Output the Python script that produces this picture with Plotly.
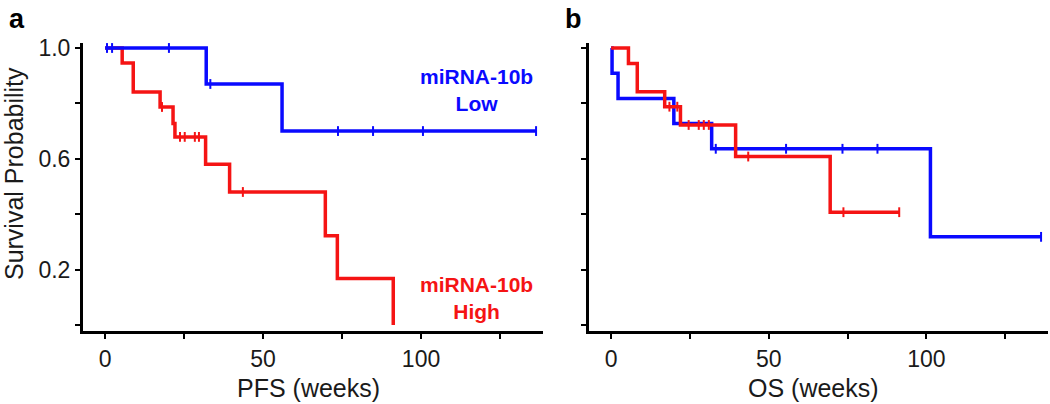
import numpy as np
import plotly.graph_objects as go

# ---- Panel a: progression-free survival ----
pfs_low_t = [0, 32.0, 56.0, 136.4]
pfs_low_s = [1.0, 0.87, 0.70, 0.70]
pfs_low_cens = [0.6, 2.2, 20.2, 33.3, 73.7, 84.8, 100.6, 136.4]

pfs_high_t = [0, 5.4, 8.9, 17.4, 21.5, 22.1, 31.8, 39.4, 69.7, 73.5, 91.2]
pfs_high_s = [1.0, 0.946, 0.841, 0.787, 0.727, 0.679, 0.580, 0.480, 0.322, 0.168, 0.0]
pfs_high_cens = [18.0, 23.7, 25.2, 28.4, 29.7, 43.6]

# ---- Panel b: overall survival ----
os_low_t = [0, 0.3, 2.2, 19.9, 31.9, 101.3, 136.4]
os_low_s = [1.0, 0.909, 0.818, 0.727, 0.636, 0.318, 0.318]
os_low_cens = [33.2, 55.5, 73.4, 84.5, 136.4]

os_high_t = [0, 5.5, 8.3, 17.0, 22.0, 39.5, 69.5, 91.4]
os_high_s = [1.0, 0.944, 0.842, 0.788, 0.722, 0.608, 0.407, 0.407]
os_high_cens = [18.5, 21.0, 24.6, 27.8, 29.4, 31.0, 43.5, 73.7, 91.4]

x_ticks = [0, 25, 50, 75, 100, 125]
x_tick_text = ["0", "", "50", "", "100", ""]
y_ticks = [0, 0.2, 0.4, 0.6, 0.8, 1.0]
y_tick_text = ["", "0.2", "", "0.6", "", "1.0"]

BLUE = "#0a0aff"
RED = "#f51414"
FONT = "Liberation Sans, Arial, sans-serif"


def surv_at(times, surv, pts):
    # look up the step value at each censor time
    idx = np.searchsorted(times, pts, side="right") - 1
    return [surv[i] for i in idx]


def add_curve(fig, t, s, cens, color, xa, ya):
    fig.add_trace(go.Scatter(x=t, y=s, mode="lines", line=dict(color=color, width=3.5, shape="hv"),
                             xaxis=xa, yaxis=ya, showlegend=False))
    fig.add_trace(go.Scatter(x=cens, y=surv_at(t, s, cens), mode="markers",
                             marker=dict(symbol="line-ns", size=7, line=dict(color=color, width=2)),
                             xaxis=xa, yaxis=ya, showlegend=False))


fig = go.Figure()
add_curve(fig, pfs_high_t, pfs_high_s, pfs_high_cens, RED, "x", "y")
add_curve(fig, pfs_low_t, pfs_low_s, pfs_low_cens, BLUE, "x", "y")
add_curve(fig, os_low_t, os_low_s, os_low_cens, BLUE, "x2", "y2")
add_curve(fig, os_high_t, os_high_s, os_high_cens, RED, "x2", "y2")

axis_style = dict(showline=True, linecolor="black", linewidth=3, ticks="outside", ticklen=5,
                  tickwidth=2, tickcolor="black", showgrid=False, zeroline=False,
                  tickfont=dict(family=FONT, size=23, color="#1a1a1a"))

fig.update_layout(
    width=1050, height=404,
    margin=dict(l=83, r=2, t=43, b=73),
    paper_bgcolor="white", plot_bgcolor="white",
    xaxis=dict(domain=[0, 0.4767], range=[-7, 138.6], tickvals=x_ticks, ticktext=x_tick_text, **axis_style),
    xaxis2=dict(domain=[0.5244, 1], range=[-7, 138.6], tickvals=x_ticks, ticktext=x_tick_text,
                anchor="y2", **axis_style),
    yaxis=dict(range=[-0.022, 1.018], tickvals=y_ticks, ticktext=y_tick_text, **axis_style),
    yaxis2=dict(range=[-0.022, 1.018], tickvals=y_ticks, ticktext=[""] * len(y_ticks),
                anchor="x2", **axis_style),
)

txt = dict(family=FONT, size=25, color="#1a1a1a")
centre = dict(showarrow=False, xanchor="center", yanchor="middle")
fig.add_annotation(text="Survival Probability", textangle=-90, xref="paper", yref="paper",
                   x=-0.0715, y=0.545, font=txt, **centre)
fig.add_annotation(text="PFS (weeks)", xref="paper", yref="paper", x=0.2332, y=-0.198,
                   font=txt, **centre)
fig.add_annotation(text="OS (weeks)", xref="paper", yref="paper", x=0.7575, y=-0.198,
                   font=txt, **centre)
fig.add_annotation(text="<b>a</b>", xref="paper", yref="paper", x=-0.068, y=1.085,
                   font=dict(family=FONT, size=27, color="black"), **centre)
fig.add_annotation(text="<b>b</b>", xref="paper", yref="paper", x=0.508, y=1.085,
                   font=dict(family=FONT, size=27, color="black"), **centre)
fig.add_annotation(text="<b>miRNA-10b<br>Low</b>", xref="x", yref="y", x=117.4, y=0.85,
                   font=dict(family=FONT, size=21, color=BLUE), **centre)
fig.add_annotation(text="<b>miRNA-10b<br>High</b>", xref="x", yref="y", x=117.4, y=0.097,
                   font=dict(family=FONT, size=21, color=RED), **centre)

# drop the default page margin so the figure sits at the window's corner
fig.write_html("out.html", config={"displayModeBar": False},
               post_script="document.body.style.margin='0';")
